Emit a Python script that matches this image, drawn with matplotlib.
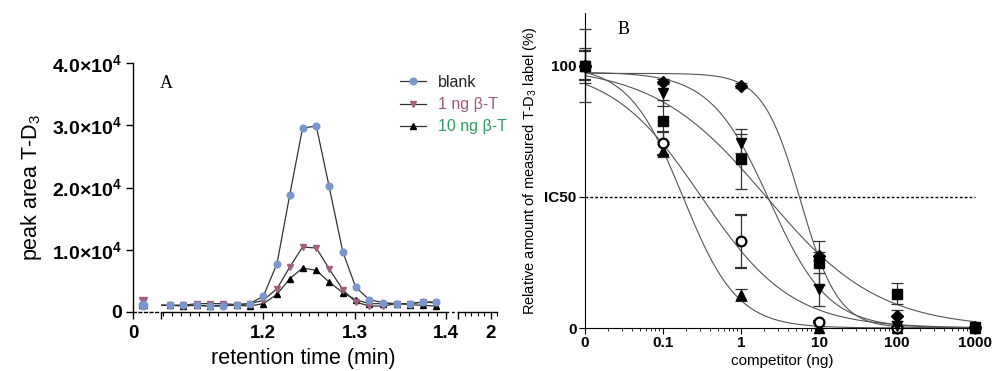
import numpy as np
import matplotlib
matplotlib.use("Agg")
import matplotlib.pyplot as plt
from matplotlib.lines import Line2D
from matplotlib.ticker import MultipleLocator, FixedLocator, LogLocator, NullFormatter

plt.rcParams['font.family'] = ['Liberation Sans', 'DejaVu Sans']
plt.rcParams['mathtext.fontset'] = 'custom'
plt.rcParams['mathtext.rm'] = 'Liberation Sans'
plt.rcParams['mathtext.it'] = 'Liberation Sans:italic'
plt.rcParams['mathtext.bf'] = 'Liberation Sans:bold'

##### DATA (panel A) #####
# retention time (min) of the sampled points, first one sits in the left axis segment
rt = [0.1, 1.098, 1.112, 1.127, 1.142, 1.156, 1.171, 1.185, 1.200, 1.215, 1.229,
      1.243, 1.258, 1.272, 1.287, 1.301, 1.316, 1.331, 1.346, 1.361, 1.375, 1.389]
blank = [1100, 1070, 1070, 1070, 960, 960, 1180, 1340, 2520, 7760, 18850,
         29560, 29880, 20190, 9690, 4020, 1980, 1500, 1340, 1340, 1610, 1610]
ng1 = [1700, 1070, 1070, 1340, 1340, 1340, 1180, 1340, 1870, 3750, 7230,
       10440, 10280, 6960, 3590, 1610, 960, 960, 1340, 1340, 1610, 1450]
ng10 = [1300, 1070, 960, 1070, 960, 1070, 1070, 960, 1340, 2840, 5360,
        7070, 6690, 4820, 3110, 1980, 1340, 1340, 1340, 1180, 1070, 960]
a_labels = ["blank", "1 ng \u03b2-T", "10 ng \u03b2-T"]
a_text_cols = ["#222222", "#a05a80", "#2e9e60"]
a_yticks = [0, 10000, 20000, 30000, 40000]
a_yticklabels = ["0", r"$\mathbf{1.0{\times}10^{4}}$", r"$\mathbf{2.0{\times}10^{4}}$",
                 r"$\mathbf{3.0{\times}10^{4}}$", r"$\mathbf{4.0{\times}10^{4}}$"]

##### DATA (panel B) #####
conc = [0.01, 0.1, 1, 10, 100, 1000]
conc_labels = ["0", "0.1", "1", "10", "100", "1000"]
diamond = [100, 93.9, 92.3, 27.5, 4.7, 0.3]
tri_down = [100, 89.7, 70.4, 14.8, 0.6, 0.0]
square = [100, 79.0, 64.3, 24.7, 13.1, 0.3]
circle = [100, 70.4, 33.0, 2.3, 0.0, 0.0]
tri_up = [100, 67.6, 12.7, 0.0, 0.0, 0.0]
diamond_err = [0, 1.0, 1.0, 1.5, 2.0, 0]
tri_down_err = [6.6, 5.0, 3.6, 6.3, 0, 0]
square_err = [13.9, 8.0, 11.4, 8.3, 4.0, 0]
circle_err = [5.7, 4.4, 10.0, 0.5, 0, 0]
tri_up_err = [0, 2.6, 2.3, 0, 0, 0]
# four-parameter logistic fits: top, bottom, IC50, hill slope
fit_diamond = [97.0, 0.0, 5.8, 1.8]
fit_tri_down = [97.5, 0.0, 2.3, 1.15]
fit_square = [100.0, 0.0, 2.1, 0.6]
fit_circle = [100.0, 0.0, 0.31, 0.75]
fit_tri_up = [100.0, 0.0, 0.18, 1.25]


def logistic(x, p):
    return p[1] + (p[0] - p[1]) / (1.0 + (x / p[2]) ** p[3])


W, H = 992.0, 371.0
def box(l, t, r, b):
    return [l / W, 1 - b / H, (r - l) / W, (b - t) / H]

fig = plt.figure(figsize=(9.92, 3.71), dpi=100)

### Panel A: broken x-axis made of three segments
ax1 = fig.add_axes(box(133, 63, 158, 312))
ax2 = fig.add_axes(box(161, 63, 446, 312))
ax3 = fig.add_axes(box(458, 63, 497, 312))
for ax in (ax1, ax2, ax3):
    ax.set_ylim(0, 40000)
    ax.patch.set_alpha(0)
    for s in ('top', 'right'):
        ax.spines[s].set_visible(False)
    ax.spines['bottom'].set_linewidth(1.0)
    ax.tick_params(axis='x', which='major', length=5, width=1.0, labelsize=13.5, pad=4)
    ax.tick_params(axis='x', which='minor', length=3, width=0.8)
for ax in (ax2, ax3):
    ax.spines['left'].set_visible(False)
    ax.set_yticks([])

ax1.spines['left'].set_linewidth(1.0)
ax1.spines['bottom'].set_linestyle((0, (2, 2)))
ax1.set_yticks(a_yticks)
ax1.set_yticklabels(a_yticklabels, fontweight='bold')
ax1.tick_params(axis='y', length=5, width=1.0, labelsize=14, pad=3)
ax1.set_xlim(0, 0.25)
ax1.set_xticks([0])
ax1.set_xticklabels(["0"], fontweight='bold')
ax1.set_ylabel("peak area T-D$_3$", fontsize=15.5, labelpad=6)

ax2.set_xlim(1.088, 1.40)
ax2.xaxis.set_major_locator(FixedLocator([1.088, 1.2, 1.3, 1.4]))
ax2.set_xticklabels(["", "1.2", "1.3", "1.4"], fontweight='bold')
ax2.xaxis.set_minor_locator(MultipleLocator(0.01))
ax2.set_xlabel("retention time (min)", fontsize=15.5, labelpad=5)

ax3.set_xlim(1.75, 2.05)
ax3.xaxis.set_major_locator(FixedLocator([1.75, 2.0]))
ax3.set_xticklabels(["", "2"], fontweight='bold')
ax3.xaxis.set_minor_locator(MultipleLocator(0.05))

fig.add_artist(Line2D([446 / W, 458 / W], [1 - 312 / H, 1 - 312 / H], color='black',
                      lw=1.0, ls=(0, (2, 2))))

line_col = '#333333'
series = [(ng10, '^', 'black'), (ng1, 'v', '#a0607f'), (blank, 'o', '#7b97cb')]
for vals, mk, col in series:
    ax2.plot(rt, vals, '-', color=line_col, lw=0.9, marker=mk, markersize=4.8,
             markerfacecolor=col, markeredgecolor=col, clip_on=True)
    ax1.plot(rt[:1], vals[:1], linestyle='none', marker=mk, markersize=6,
             markerfacecolor=col, markeredgecolor=col, clip_on=False)

handles = [Line2D([], [], color=line_col, lw=0.9, marker=m, markersize=4.8,
                  markerfacecolor=c, markeredgecolor=c)
           for m, c in [('o', '#7b97cb'), ('v', '#a0607f'), ('^', 'black')]]
leg = fig.legend(handles, a_labels, loc='upper left', bbox_to_anchor=(392 / W, 1 - 67 / H),
                 frameon=False, fontsize=11.5, handlelength=1.6, labelspacing=0.45,
                 handletextpad=0.8, borderpad=0)
for t, c in zip(leg.get_texts(), a_text_cols):
    t.set_color(c)

fig.text(160 / W, 1 - 84 / H, "A", family='Liberation Serif', fontsize=13, va='center')

### Panel B: competition curves
axB = fig.add_axes(box(585, 13, 980, 328))
axB.set_xscale('log')
axB.set_xlim(0.01, 1159)
axB.set_ylim(0, 120)
for s in ('top', 'right'):
    axB.spines[s].set_visible(False)
axB.set_xticks(conc)
axB.set_xticklabels(conc_labels, fontweight='bold')
axB.xaxis.set_minor_locator(LogLocator(base=10, subs=np.arange(2, 10)))
axB.xaxis.set_minor_formatter(NullFormatter())
axB.set_yticks([0, 50, 100])
axB.set_yticklabels(["0", "IC50", "100"], fontweight='bold')
axB.tick_params(axis='both', which='major', length=4, width=0.8, labelsize=11, pad=2)
axB.tick_params(axis='x', which='minor', length=2, width=0.6)
axB.set_xlabel("competitor (ng)", fontsize=11, labelpad=3)
axB.set_ylabel("Relative amount of measured T-D$_3$ label (%)", fontsize=10.5, labelpad=4)

axB.hlines(50, conc[0], conc[-1], colors='black', lw=1.0, linestyles=(0, (2, 1.5)))

xs = np.logspace(np.log10(conc[0]), np.log10(conc[-1]), 400)
for p in (fit_diamond, fit_tri_down, fit_square, fit_circle, fit_tri_up):
    axB.plot(xs, logistic(xs, p), '-', color='#555555', lw=0.8)

kw = dict(color='black', ecolor='#333333', elinewidth=0.9, capsize=4, capthick=0.9,
          linestyle='none', clip_on=False)
axB.errorbar(conc, tri_up, yerr=tri_up_err, marker='^', markersize=7, **kw)
axB.errorbar(conc, circle, yerr=circle_err, marker='o', markersize=7,
             markerfacecolor='white', markeredgewidth=1.6, **kw)
axB.errorbar(conc, square, yerr=square_err, marker='s', markersize=6.5, **kw)
axB.errorbar(conc, tri_down, yerr=tri_down_err, marker='v', markersize=7, **kw)
axB.errorbar(conc, diamond, yerr=diamond_err, marker='D', markersize=6, **kw)

fig.text(618 / W, 1 - 29 / H, "B", family='Liberation Serif', fontsize=13, va='center')

plt.savefig("out.png", dpi=100)
plt.close()
